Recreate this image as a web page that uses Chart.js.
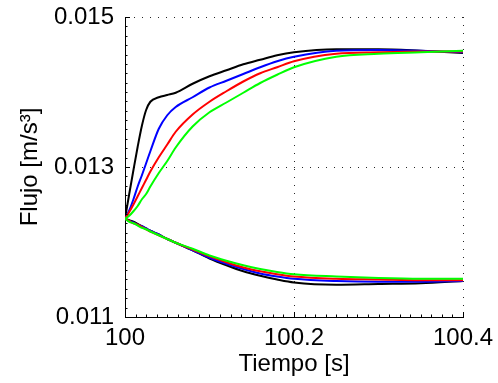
<!DOCTYPE html>
<html>
<head>
<meta charset="utf-8">
<script src="https://cdn.jsdelivr.net/npm/chart.js@4.4.1/dist/chart.umd.min.js"></script>
<style>
  html, body { margin: 0; padding: 0; background: #fff; }
  #wrap { width: 498px; height: 383px; position: relative; }
</style>
</head>
<body>
<div id="wrap"><canvas id="c"></canvas></div>
<script>
// ---- data ----
const times = [100, 100.005, 100.01, 100.015, 100.02, 100.025, 100.03, 100.04, 100.05, 100.06,
               100.08, 100.1, 100.12, 100.14, 100.16, 100.18, 100.2, 100.25, 100.3, 100.35, 100.4];

const blackUpper = [0.01231, 0.01264, 0.01296, 0.01327, 0.01355, 0.01376, 0.01387, 0.01393, 0.01396, 0.01399,
                    0.01411, 0.01421, 0.01429, 0.01437, 0.01443, 0.01449, 0.01453, 0.01457, 0.01457, 0.01455, 0.01452];
const blueUpper  = [0.01231, 0.01242, 0.01257, 0.01274, 0.01289, 0.01305, 0.01321, 0.01351, 0.01369, 0.01380,
                    0.01393, 0.01406, 0.01415, 0.01424, 0.01433, 0.01441, 0.01447, 0.01455, 0.01456, 0.01455, 0.01453];
const redUpper   = [0.01231, 0.01240, 0.01250, 0.01261, 0.01272, 0.01283, 0.01294, 0.01313, 0.01330, 0.01347,
                    0.01370, 0.01387, 0.01401, 0.01414, 0.01425, 0.01433, 0.01441, 0.01451, 0.01453, 0.01454, 0.01454];
const greenUpper = [0.01231, 0.01235, 0.01241, 0.01248, 0.01257, 0.01264, 0.01274, 0.01292, 0.01308, 0.01326,
                    0.01354, 0.01373, 0.01386, 0.01399, 0.01412, 0.01423, 0.01433, 0.01447, 0.01451, 0.01453, 0.01455];

const blackLower = [0.01231, 0.01229, 0.01227, 0.01224, 0.01221, 0.01218, 0.01215, 0.01210, 0.01204, 0.01199,
                    0.01189, 0.01178, 0.01169, 0.01161, 0.01155, 0.01150, 0.01146, 0.01143, 0.01144, 0.01145, 0.01148];
const blueLower  = [0.01231, 0.01228, 0.01226, 0.01223, 0.01221, 0.01218, 0.01215, 0.01210, 0.01204, 0.01199,
                    0.01189, 0.01179, 0.01171, 0.01164, 0.01158, 0.01154, 0.01151, 0.01148, 0.01147, 0.01147, 0.01148];
const redLower   = [0.01231, 0.01228, 0.01225, 0.01223, 0.01220, 0.01217, 0.01214, 0.01209, 0.01204, 0.01199,
                    0.01190, 0.01181, 0.01173, 0.01166, 0.01161, 0.01157, 0.01154, 0.01151, 0.01150, 0.01149, 0.01149];
const greenLower = [0.01231, 0.01227, 0.01225, 0.01222, 0.01219, 0.01217, 0.01214, 0.01209, 0.01204, 0.01199,
                    0.01191, 0.01182, 0.01175, 0.01169, 0.01164, 0.01160, 0.01157, 0.01154, 0.01152, 0.01151, 0.01151];

const xTicks = [100, 100.2, 100.4];
const xTickLabels = ['100', '100.2', '100.4'];
const yTicks = [0.011, 0.013, 0.015];
const yTickLabels = ['0.011', '0.013', '0.015'];
const xTitle = 'Tiempo [s]';
const yTitle = 'Flujo [m/s\u00B3]';

// ---- chart ----
const FONT = '"Liberation Sans", Arial, sans-serif';
const toXY = arr => arr.map((v, i) => ({ x: times[i], y: v }));

function ds(arr, color, order) {
  return {
    data: toXY(arr),
    borderColor: color,
    backgroundColor: color,
    borderWidth: 2,
    pointRadius: 0,
    fill: false,
    cubicInterpolationMode: 'monotone',
    order: order
  };
}

const minorTicks = {
  id: 'minorTicks',
  afterDraw(chart) {
    const { ctx, chartArea: a, scales: { x, y } } = chart;
    ctx.save();
    ctx.strokeStyle = '#000';
    ctx.lineWidth = 1;
    ctx.beginPath();
    const xStep = (xTicks[1] - xTicks[0]) / 16;
    for (let k = 0; k <= 32; k++) {
      const px = Math.round(x.getPixelForValue(xTicks[0] + k * xStep)) + 0.5;
      const len = (k % 16 === 0) ? 5 : 2.5;
      ctx.moveTo(px, a.bottom);
      ctx.lineTo(px, a.bottom - len);
    }
    const yStep = (yTicks[1] - yTicks[0]) / 16;
    for (let k = 0; k <= 32; k++) {
      const py = Math.round(y.getPixelForValue(yTicks[0] + k * yStep)) + 0.5;
      const len = (k % 16 === 0) ? 5 : 2.5;
      ctx.moveTo(a.left, py);
      ctx.lineTo(a.left + len, py);
    }
    ctx.stroke();
    ctx.restore();
  }
};

new Chart(document.getElementById('c'), {
  type: 'line',
  data: {
    datasets: [
      ds(blackUpper, '#000000', 3),
      ds(blueUpper, '#0000ff', 2),
      ds(redUpper, '#ff0000', 1),
      ds(greenUpper, '#00ff00', 0),
      ds(blackLower, '#000000', 3),
      ds(blueLower, '#0000ff', 2),
      ds(redLower, '#ff0000', 1),
      ds(greenLower, '#00ff00', 0)
    ]
  },
  options: {
    responsive: true,
    maintainAspectRatio: false,
    animation: false,
    events: [],
    layout: { padding: { top: 17, right: 35, left: 0, bottom: 0 } },
    plugins: { legend: { display: false }, tooltip: { enabled: false } },
    scales: {
      x: {
        type: 'linear',
        min: 100,
        max: 100.4,
        afterBuildTicks: s => { s.ticks = xTicks.map(v => ({ value: v })); },
        afterFit: s => { s.height = 66; s.paddingLeft = 0; s.paddingRight = 0; },
        ticks: {
          autoSkip: false,
          maxRotation: 0,
          padding: 7,
          color: '#000',
          font: { family: FONT, size: 24 },
          callback: (v, i) => xTickLabels[i]
        },
        grid: { color: 'rgba(0,0,0,0.85)', lineWidth: 1, drawTicks: false },
        border: { display: true, color: '#000', width: 1, dash: [1, 7] },
        title: {
          display: true, text: xTitle, color: '#000',
          font: { family: FONT, size: 24 },
          padding: { top: 0, bottom: 4 }
        }
      },
      y: {
        type: 'linear',
        min: 0.011,
        max: 0.015,
        afterBuildTicks: s => { s.ticks = yTicks.map(v => ({ value: v })); },
        afterFit: s => { s.width = 125; s.paddingTop = 0; s.paddingBottom = 0; },
        ticks: {
          autoSkip: false,
          padding: 11,
          color: '#000',
          font: { family: FONT, size: 24 },
          callback: (v, i) => yTickLabels[i]
        },
        grid: { color: 'rgba(0,0,0,0.85)', lineWidth: 1, drawTicks: false },
        border: { display: true, color: '#000', width: 1, dash: [1, 7] },
        title: {
          display: true, text: yTitle, color: '#000',
          font: { family: FONT, size: 24 },
          padding: { top: 16, bottom: 0 }
        }
      }
    }
  },
  plugins: [minorTicks]
});
</script>
</body>
</html>
